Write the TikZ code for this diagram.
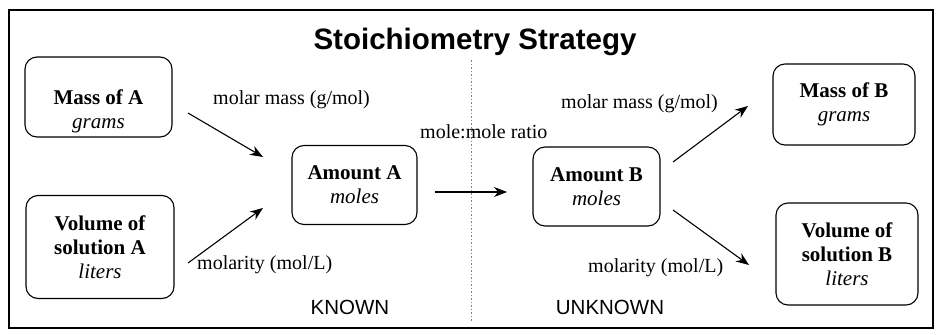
\documentclass[tikz,border=0pt]{standalone}
\usepackage{fontspec}
\setmainfont{Liberation Serif}
\setsansfont{Liberation Sans}
\usetikzlibrary{arrows.meta}
\begin{document}
\begin{tikzpicture}[x=1pt,y=-1pt,
  boxnode/.style={draw, line width=1.1pt, rounded corners=12pt, inner sep=0pt},
  btxt/.style={align=center, font=\fontsize{21}{24}\selectfont\bfseries, inner sep=0pt},
  lbl/.style={font=\fontsize{20}{24}\selectfont, inner sep=0pt},
  side/.style={font=\sffamily\fontsize{20.5}{23}\selectfont, inner sep=0pt},
  arr/.style={line width=1.1pt, -{Stealth[length=13pt,width=10pt]}}]
\useasboundingbox (0,0) rectangle (938,335);
\node[draw, line width=1.4pt, minimum width=924pt, minimum height=318pt, inner sep=0pt] (frame) at (471,169) {};
\node[font=\sffamily\bfseries\fontsize{29.5}{32}\selectfont, inner sep=0pt] (title) at (475,42) {Stoichiometry Strategy};
% boxes
\node[boxnode, minimum width=147pt, minimum height=80pt] (ma) at (98.5,97) {};
\node[btxt] (tma) at (98.5,111) {Mass of A\\\textit{\mdseries grams}};
\node[boxnode, minimum width=148pt, minimum height=103pt, btxt] (va) at (100,247) {Volume of\\solution A\\\textit{\mdseries liters}};
\node[boxnode, minimum width=125pt, minimum height=79pt, btxt] (aa) at (354.5,185) {Amount A\\\textit{\mdseries moles}};
\node[boxnode, minimum width=127pt, minimum height=79pt, btxt] (ab) at (596.5,186.5) {Amount B\\\textit{\mdseries moles}};
\node[boxnode, minimum width=142pt, minimum height=81pt, btxt] (mb) at (844,104.5) {Mass of B\\\textit{\mdseries grams}};
\node[boxnode, minimum width=142pt, minimum height=102pt, btxt] (vb) at (847,254) {Volume of\\solution B\\\textit{\mdseries liters}};
% divider
\coordinate (d1) at (471,60);
\coordinate (d2) at (471,322);
\draw[gray, line width=0.6pt, dash pattern=on 1.5pt off 2pt] (d1) -- (d2);
% arrow endpoints
\coordinate (a1s) at (188,113); \coordinate (a1e) at (263,157);
\coordinate (a2s) at (188,263); \coordinate (a2e) at (263,208);
\coordinate (a3s) at (435,192); \coordinate (a3e) at (507,192);
\coordinate (a4s) at (673,162); \coordinate (a4e) at (748,106);
\coordinate (a5s) at (673,210); \coordinate (a5e) at (749,265);
\draw[arr] (a1s) -- (a1e);
\draw[arr] (a2s) -- (a2e);
\draw[arr] (a3s) -- (a3e);
\draw[arr] (a4s) -- (a4e);
\draw[arr] (a5s) -- (a5e);
% labels
\node[lbl, anchor=west] (l1) at (213,100) {molar mass (g/mol)};
\node[lbl, anchor=west] (l2) at (197,265) {molarity (mol/L)};
\node[lbl, anchor=west] (l3) at (420,132) {mole:mole ratio};
\node[lbl, anchor=west] (l4) at (561,104) {molar mass (g/mol)};
\node[lbl, anchor=west] (l5) at (588,268) {molarity (mol/L)};
\node[side] (kn) at (350,307) {KNOWN};
\node[side] (ukn) at (610,307) {UNKNOWN};
\end{tikzpicture}
\end{document}
